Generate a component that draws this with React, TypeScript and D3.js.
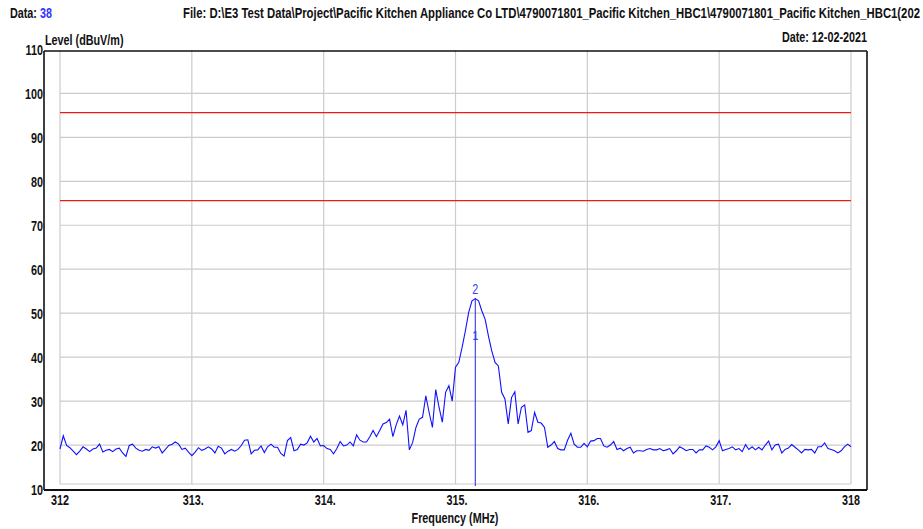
import React from 'react';
import * as d3 from 'd3';

// spectrum trace, one level every FREQ_STEP MHz from FREQ_START
const FREQ_START = 312;
const FREQ_STEP = 0.025;
const levels = [
  19.1, 22.1, 19.9, 19.4, 18.6, 17.8, 18.6, 19.6, 19.1, 18.5,
  19.1, 19.3, 20.2, 18.4, 18.8, 19.0, 18.5, 19.1, 19.3, 18.2,
  17.4, 19.9, 20.2, 19.3, 18.8, 18.6, 19.0, 18.8, 19.6, 19.3,
  19.6, 18.2, 19.0, 19.9, 20.2, 20.7, 20.2, 19.0, 19.3, 18.4,
  17.6, 18.4, 19.4, 18.8, 19.1, 19.6, 19.1, 18.2, 19.7, 19.3,
  18.0, 18.6, 19.0, 18.6, 19.0, 19.9, 21.1, 21.2, 18.0, 18.8,
  18.9, 19.8, 18.3, 19.6, 20.2, 19.5, 19.5, 18.1, 17.5, 21.0,
  21.7, 18.7, 19.0, 20.2, 20.0, 20.5, 22.0, 20.7, 21.5, 19.8,
  19.9, 19.2, 19.0, 18.0, 19.2, 20.8, 19.8, 20.0, 20.7, 19.8,
  22.3, 21.1, 20.7, 20.7, 21.9, 23.3, 21.9, 23.3, 24.8, 25.1,
  25.9, 21.9, 24.6, 26.6, 24.6, 27.9,
  18.9, 20.6, 24.0, 25.9, 26.3, 31.2, 27.4, 24.0, 32.6, 28.6,
  25.2, 32.0, 33.5, 30.0, 37.7, 38.8, 42.2, 46.0, 50.2, 52.8,
  53.3, 52.8, 50.5, 48.6, 44.8, 41.4, 38.8, 38.0, 32.0, 30.5,
  24.8, 30.8, 32.1, 24.8, 28.6, 29.1, 22.9, 23.3, 27.4, 25.2,
  25.0, 24.0, 19.5, 20.0, 20.8, 19.2,
  18.9, 18.9, 21.1, 22.7, 20.2, 19.5, 19.5, 20.4, 19.6, 20.9,
  21.0, 21.5, 21.5, 19.8, 19.5, 20.0, 20.8, 19.0, 19.3, 18.7,
  19.2, 19.5, 18.2, 18.7, 18.7, 18.6, 19.0, 19.2, 18.9, 18.9,
  19.2, 18.7, 18.9, 19.2, 18.0, 18.7, 19.6, 19.2, 18.7, 19.0,
  19.0, 18.2, 18.9, 18.9, 19.8, 19.5, 18.9, 19.6, 21.0, 18.7,
  19.0, 19.2, 19.6, 18.9, 19.2, 18.5, 20.1, 19.0, 19.6, 18.9,
  19.5, 18.9, 20.0, 20.9, 18.9, 20.0, 20.2, 18.2, 19.0, 19.3,
  20.1, 19.5, 18.9, 18.2, 19.0, 18.9, 19.0, 18.2, 19.6, 19.6,
  20.5, 19.2, 19.0, 18.7, 18.2, 18.7, 19.6, 20.2, 19.6,
];

const limits = [95.6, 75.6];
const markerFreq = 315.15;
const markerLevel = 53.3;

const xTicks = [312, 313, 314, 315, 316, 317, 318];
const xTickLabels = ['312', '313.', '314.', '315.', '316.', '317.', '318'];
const yTicks = [10, 20, 30, 40, 50, 60, 70, 80, 90, 100, 110];

// the path is cut by the window edge in the original, shown as far as it is visible
const fileText =
  'File: D:\\E3 Test Data\\Project\\Pacific Kitchen Appliance Co LTD\\4790071801_Pacific Kitchen_HBC1\\4790071801_Pacific Kitchen_HBC1(202';

const W = 923;
const H = 529;
const SX = 0.72; // narrow font look
const FONT = 'Liberation Sans, Arial, sans-serif';

const NText = ({ x, y, anchor = 'start', size = 15, weight = 'bold', fill = '#111', fit, children }: any) => (
  <g transform={`translate(${x},${y}) scale(${SX},1)`}>
    <text
      textAnchor={anchor}
      fontSize={size}
      fontWeight={weight}
      fontFamily={FONT}
      fill={fill}
      textLength={fit ? fit / SX : undefined}
      lengthAdjust={fit ? 'spacingAndGlyphs' : undefined}
    >
      {children}
    </text>
  </g>
);

const App = () => {
  const x = d3.scaleLinear().domain([312, 318]).range([60, 851]);
  const y = d3.scaleLinear().domain([10, 110]).range([489, 49.4]);
  const gridTop = 50;
  const gridBottom = 484;

  const freqs = levels.map((_, i) => FREQ_START + i * FREQ_STEP);
  const line = d3
    .line<number>()
    .x((_, i) => x(freqs[i]))
    .y((d) => y(d));

  return (
    <svg width={W} height={H} style={{ position: 'absolute', left: 0, top: 0, background: '#fff' }}>
      {/* header */}
      <NText x={10} y={18}>
        Data: <tspan fill="#3333ff">38</tspan>
      </NText>
      <NText x={183} y={18} fit={737}>{fileText}</NText>
      <NText x={867} y={42} anchor="end">Date: 12-02-2021</NText>
      <NText x={45} y={44.5}>Level (dBuV/m)</NText>

      {/* grid */}
      {xTicks.map((t) => (
        <line key={'vx' + t} x1={x(t)} x2={x(t)} y1={gridTop} y2={gridBottom} stroke="#cccccc" strokeWidth={1.2} />
      ))}
      {yTicks.filter((t) => t > 10 && t < 110).map((t) => (
        <line key={'hy' + t} x1={x(312)} x2={x(318)} y1={y(t)} y2={y(t)} stroke="#cccccc" strokeWidth={1.2} />
      ))}
      <line x1={x(312)} x2={x(318)} y1={gridBottom} y2={gridBottom} stroke="#cccccc" strokeWidth={1.2} />

      {/* limit lines */}
      {limits.map((l) => (
        <line key={'lim' + l} x1={x(312)} x2={x(318)} y1={y(l)} y2={y(l)} stroke="#f01818" strokeWidth={1.3} />
      ))}

      {/* trace */}
      <path d={line(levels) || ''} fill="none" stroke="#1010ff" strokeWidth={1.1} />

      {/* marker */}
      <line x1={x(markerFreq)} x2={x(markerFreq)} y1={y(markerLevel)} y2={gridBottom + 2} stroke="#2222ee" strokeWidth={1} />
      <NText x={x(markerFreq)} y={294} anchor="middle" size={15} weight="normal" fill="#3a3aff">2</NText>
      <NText x={x(markerFreq)} y={340} anchor="middle" size={13} weight="bold" fill="#3a3aff">1</NText>

      {/* frame */}
      <line x1={44} x2={867} y1={51} y2={51} stroke="#111" strokeWidth={1.6} />
      <line x1={44} x2={44} y1={51} y2={490} stroke="#111" strokeWidth={1.6} />
      <line x1={867} x2={867} y1={51} y2={490} stroke="#111" strokeWidth={1.6} />
      <line x1={44} x2={867} y1={490} y2={490} stroke="#111" strokeWidth={2} />

      {/* y axis labels */}
      {yTicks.map((t) => (
        <NText key={'yl' + t} x={43} y={y(t) + 6} anchor="end">{t}</NText>
      ))}

      {/* x axis labels */}
      {xTicks.map((t, i) => (
        <NText key={'xl' + t} x={x(t) + (xTickLabels[i].endsWith('.') ? 1.5 : 0)} y={505} anchor="middle">
          {xTickLabels[i]}
        </NText>
      ))}
      <NText x={455} y={523} anchor="middle">Frequency (MHz)</NText>
    </svg>
  );
};

export default App;
